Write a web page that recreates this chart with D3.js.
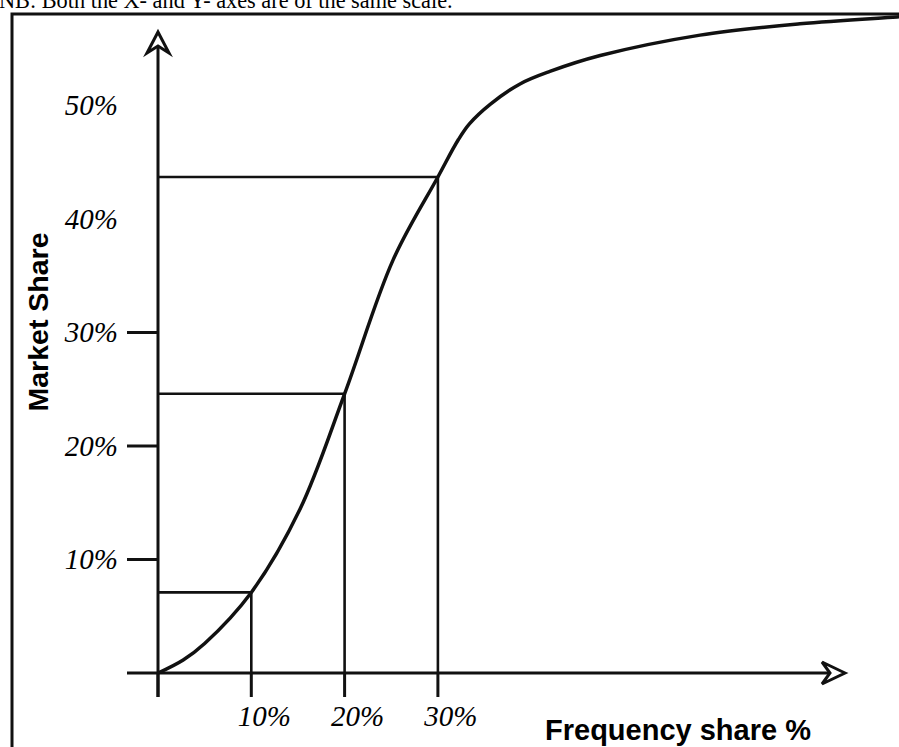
<!DOCTYPE html>
<html>
<head>
<meta charset="utf-8">
<script src="https://cdn.jsdelivr.net/npm/d3@7"></script>
<style>
  body { margin: 0; background: #fff; }
  svg { display: block; }
</style>
</head>
<body>
<div class="chartHolder"></div>
<script>
// values (percent)
let curveX = [0, 2.7, 5.0, 10, 15.2, 20, 25.2, 30, 32.2, 33.4, 35.6, 38.8, 42, 47.4, 58.1, 68.8, 79.2, 85];
let curveY = [0, 1.15, 2.6, 7.1, 14.4, 24.6, 36.4, 43.7, 47.0, 48.4, 50.1, 51.9, 53.0, 54.4, 56.2, 57.2, 57.8, 58.1];
let guideX = [10, 20, 30];
let guideY = [7.1, 24.6, 43.7];
let xTicks = [0, 10, 20, 30];
let yTicks = [10, 20, 30];
let yLabels = [10, 20, 30, 40, 50];
let xLabels = [10, 20, 30];

let width = 899,
  height = 747,
  serif = "'Liberation Serif', 'Times New Roman', serif",
  sans = "'Liberation Sans', Arial, sans-serif",
  ink = "#111";

let svg = d3
  .select(".chartHolder")
  .append("svg")
  .attr("width", width)
  .attr("height", height);

// scales (x: 10% = 93.3px, y: 10% = 113.5px)
let x = d3.scaleLinear().domain([0, 10]).range([158, 251.3]);
let y = d3.scaleLinear().domain([0, 10]).range([673, 559.5]);

// note above the box, cut off at the top
svg
  .append("text")
  .attr("x", -1)
  .attr("y", 8)
  .style("font-family", serif)
  .style("font-size", "22.3px")
  .text("NB: Both the X- and Y- axes are of the same scale.");

// box frame (left + top)
svg
  .append("path")
  .attr("d", "M12," + height + " L12,14 L" + width + ",14")
  .attr("fill", "none")
  .attr("stroke", ink)
  .attr("stroke-width", 3);

//////////////////////////////////
////////////  AXES  /////////////
////////////////////////////////
let axisG = svg.append("g").attr("stroke", ink).attr("stroke-width", 3).attr("fill", "none");

// y axis line with open arrow head
axisG.append("line").attr("x1", x(0)).attr("x2", x(0)).attr("y1", 46).attr("y2", 697);
axisG
  .append("path")
  .attr("d", "M" + x(0) + ",32 L" + (x(0) - 11) + ",53 L" + x(0) + ",46 L" + (x(0) + 11) + ",53 Z")
  .attr("fill", "#fff")
  .attr("stroke-linejoin", "miter");

// x axis line with open arrow head
axisG.append("line").attr("x1", 127).attr("x2", 830).attr("y1", y(0)).attr("y2", y(0));
axisG
  .append("path")
  .attr("d", "M845," + y(0) + " L822," + (y(0) - 11) + " L830," + y(0) + " L822," + (y(0) + 11) + " Z")
  .attr("fill", "#fff")
  .attr("stroke-linejoin", "miter");

// tick marks
axisG
  .selectAll(".ytick")
  .data(yTicks)
  .enter()
  .append("line")
  .attr("x1", 127)
  .attr("x2", x(0))
  .attr("y1", (d) => y(d))
  .attr("y2", (d) => y(d));

axisG
  .selectAll(".xtick")
  .data(xTicks)
  .enter()
  .append("line")
  .attr("x1", (d) => x(d))
  .attr("x2", (d) => x(d))
  .attr("y1", y(0))
  .attr("y2", 697);

// guide lines from the curve to both axes
guideX.forEach((gx, i) => {
  axisG
    .append("path")
    .attr("d", "M" + x(0) + "," + y(guideY[i]) + " L" + x(gx) + "," + y(guideY[i]) + " L" + x(gx) + "," + y(0))
    .attr("stroke-width", 2.6);
});

//////////////////////////////////
////////////  LABELS  ///////////
////////////////////////////////
svg
  .selectAll(".ylab")
  .data(yLabels)
  .enter()
  .append("text")
  .attr("x", 118)
  .attr("y", (d) => y(d))
  .attr("dy", "0.33em")
  .attr("text-anchor", "end")
  .style("font-family", serif)
  .style("font-style", "italic")
  .style("font-size", "29px")
  .text((d) => d + "%");

svg
  .selectAll(".xlab")
  .data(xLabels)
  .enter()
  .append("text")
  .attr("x", (d) => x(d) + 13)
  .attr("y", 726)
  .attr("text-anchor", "middle")
  .style("font-family", serif)
  .style("font-style", "italic")
  .style("font-size", "29px")
  .text((d) => d + "%");

svg
  .append("text")
  .attr("x", 545)
  .attr("y", 740)
  .style("font-family", sans)
  .style("font-weight", "bold")
  .style("font-size", "29px")
  .text("Frequency share %");

svg
  .append("text")
  .attr("transform", "translate(48,322) rotate(-90)")
  .attr("text-anchor", "middle")
  .style("font-family", sans)
  .style("font-weight", "bold")
  .style("font-size", "28.5px")
  .text("Market Share");

//////////////////////////////////
////////////  CURVE  ////////////
////////////////////////////////
let line = d3
  .line()
  .x((d) => x(d[0]))
  .y((d) => y(d[1]))
  .curve(d3.curveCatmullRom.alpha(0.5));

svg
  .append("path")
  .datum(curveX.map((d, i) => [d, curveY[i]]))
  .attr("d", line)
  .attr("fill", "none")
  .attr("stroke", ink)
  .attr("stroke-width", 3.5);
</script>
</body>
</html>
